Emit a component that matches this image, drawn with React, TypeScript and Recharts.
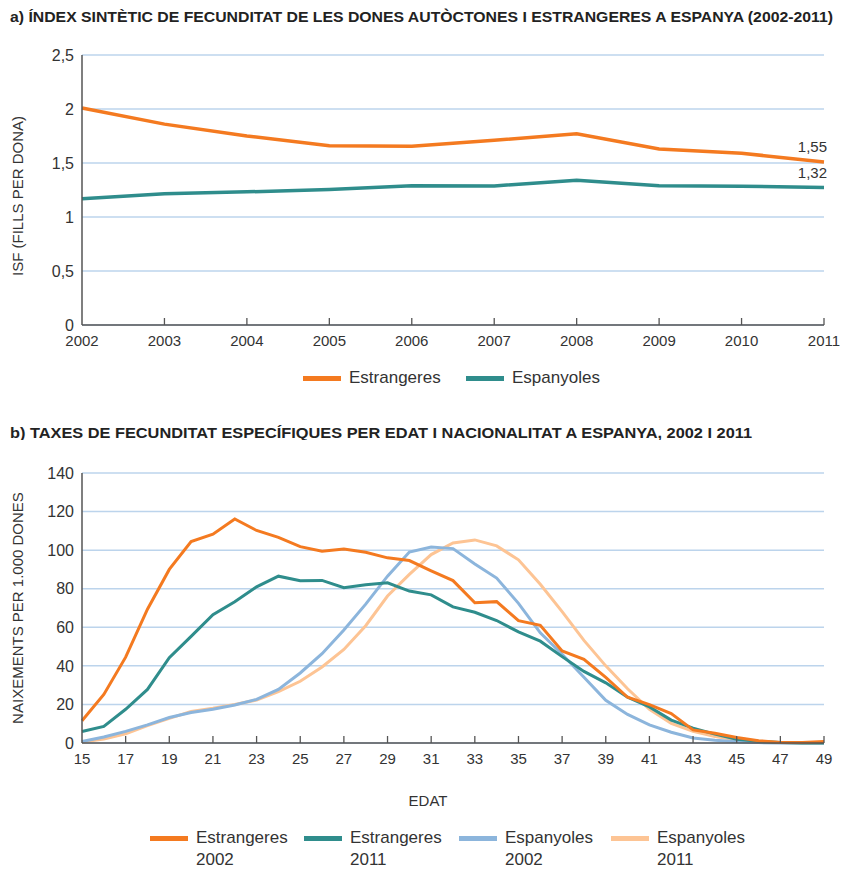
import { CartesianGrid, LabelList, Line, LineChart, XAxis, YAxis } from "recharts"

// a) ISF per year
const years = ["2002", "2003", "2004", "2005", "2006", "2007", "2008", "2009", "2010", "2011"]
const isfEstrangeres = [2.01, 1.86, 1.75, 1.66, 1.655, 1.71, 1.77, 1.63, 1.59, 1.51]
const isfEspanyoles = [1.17, 1.215, 1.233, 1.255, 1.29, 1.288, 1.34, 1.29, 1.285, 1.273]
const isfEndLabels = { estrangeres: "1,55", espanyoles: "1,32" }
const isfTicks = [0, 0.5, 1, 1.5, 2, 2.5]

// b) rates per age
const ages = [
  15, 16, 17, 18, 19, 20, 21, 22, 23, 24, 25, 26, 27, 28, 29, 30, 31, 32,
  33, 34, 35, 36, 37, 38, 39, 40, 41, 42, 43, 44, 45, 46, 47, 48, 49,
]
const estr2002 = [
  11.5, 25.2, 44.5, 69.4, 90, 104.5, 108.3, 116.2, 110.2, 106.6, 101.8, 99.4, 100.6, 98.9, 96, 94.6, 89.3, 84.2,
  72.7, 73.3, 63.4, 61, 47.7, 43.4, 34, 23.7, 19.9, 15.3, 6.8, 5.1, 2.9, 1.2, 0.3, 0.2, 0.8,
]
const estr2011 = [
  6, 8.6, 17.5, 27.8, 44.2, 55.3, 66.5, 73.2, 81, 86.5, 84.1, 84.3, 80.5, 82.1, 83.1, 78.8, 76.8, 70.6,
  67.8, 63.5, 57.6, 52.8, 44.8, 37.1, 31.2, 23.7, 18.7, 11.9, 7.7, 4.6, 2, 0.9, 0.2, 0, 0,
]
const esp2002 = [
  0.8, 3.1, 6, 9.4, 13.2, 15.8, 17.5, 19.7, 22.6, 27.8, 36.3, 46.3, 58.6, 72, 86.5, 99, 101.6, 100.8,
  92.8, 85.5, 72.4, 57.1, 46, 34.1, 22.1, 14.8, 9.4, 5.6, 2.6, 1.4, 0.7, 0.2, 0, 0, 0,
]
const esp2011 = [
  0.5, 2, 4.8, 9, 12.8, 16.3, 18, 20, 22.3, 26.6, 32, 39.4, 48.5, 60.8, 76.2, 87.4, 97.7, 103.7,
  105.3, 102.2, 95, 82.3, 68.1, 53.2, 40, 28.1, 17.5, 10.2, 6, 3.4, 1.7, 0.7, 0.3, 0, 0,
]
const ageTicks = [15, 17, 19, 21, 23, 25, 27, 29, 31, 33, 35, 37, 39, 41, 43, 45, 47, 49]
const rateTicks = [0, 20, 40, 60, 80, 100, 120, 140]

const ORANGE = "#f47a20"
const TEAL = "#2f8d8c"
const BLUE = "#8cb5dc"
const PEACH = "#fdc494"
const GRID = "#bcd4ec"
const AXIS = "#555"
const TEXT = "#333"
const FONT = "'Liberation Sans', Arial, sans-serif"

const isfData = years.map((y, i) => ({ year: y, estr: isfEstrangeres[i], esp: isfEspanyoles[i] }))
const rateData = ages.map((a, i) => ({
  age: a,
  e02: estr2002[i],
  e11: estr2011[i],
  s02: esp2002[i],
  s11: esp2011[i],
}))

const comma = (v: number) => String(v).replace(".", ",")

// x ticks: small mark pointing up into the plot, label below
function InsideTick(props: any) {
  const { x, y, payload, index } = props
  return (
    <g>
      {index > 0 && <line x1={x} y1={y} x2={x} y2={y - 7} stroke={AXIS} strokeWidth={1.3} />}
      <text x={x} y={y + 21} textAnchor="middle" fill={TEXT} fontSize={15} fontFamily={FONT}>
        {payload.value}
      </text>
    </g>
  )
}

function endLabel(text: string) {
  return (props: any) => {
    const { x, y, index } = props
    if (index !== years.length - 1) return null
    return (
      <text x={x + 3} y={y - 10} textAnchor="end" fill={TEXT} fontSize={15} fontFamily={FONT}>
        {text}
      </text>
    )
  }
}

function LegendItem({ color, lines, x, y }: { color: string; lines: string[]; x: number; y: number }) {
  return (
    <div style={{ position: "absolute", left: x, top: y, display: "flex", alignItems: "flex-start" }}>
      <div style={{ width: 38, height: 5, background: color, marginTop: 9, marginRight: 8 }} />
      <div style={{ fontSize: 17, lineHeight: "22px", color: TEXT, fontFamily: FONT }}>
        {lines.map((l) => (
          <div key={l}>{l}</div>
        ))}
      </div>
    </div>
  )
}

function RotatedLabel({ text, cx, cy }: { text: string; cx: number; cy: number }) {
  return (
    <div
      style={{
        position: "absolute",
        left: cx,
        top: cy,
        transform: "translate(-50%, -50%) rotate(-90deg)",
        whiteSpace: "nowrap",
        fontSize: 15,
        color: TEXT,
        fontFamily: FONT,
      }}
    >
      {text}
    </div>
  )
}

export default function App() {
  return (
    <div style={{ position: "relative", width: 844, height: 869, background: "#fff", fontFamily: FONT }}>
      <style>{`body{margin:0}`}</style>

      <svg width={844} height={440} style={{ position: "absolute", left: 0, top: 0 }}>
        <text
          x={10}
          y={22}
          fontSize={15}
          fontWeight="bold"
          fontFamily="'Liberation Sans Narrow', 'Liberation Sans', Arial, sans-serif"
          fill="#222"
          textLength={823}
          lengthAdjust="spacingAndGlyphs"
        >
          a) ÍNDEX SINTÈTIC DE FECUNDITAT DE LES DONES AUTÒCTONES I ESTRANGERES A ESPANYA (2002-2011)
        </text>
        <text
          x={10}
          y={438}
          fontSize={14.5}
          fontWeight="bold"
          fontFamily={FONT}
          fill="#222"
          textLength={742}
          lengthAdjust="spacingAndGlyphs"
        >
          b) TAXES DE FECUNDITAT ESPECÍFIQUES PER EDAT I NACIONALITAT A ESPANYA, 2002 I 2011
        </text>
      </svg>

      <div style={{ position: "absolute", left: 0, top: 0 }}>
        <LineChart width={844} height={400} data={isfData} margin={{ top: 55, right: 20, bottom: 45, left: 22 }}>
          <CartesianGrid vertical={false} stroke={GRID} strokeWidth={1.5} />
          <XAxis
            dataKey="year"
            stroke={AXIS}
            strokeWidth={1.5}
            tickLine={false}
            tickSize={0}
            tickMargin={0}
            height={30}
            tick={<InsideTick />}
            interval={0}
          />
          <YAxis
            domain={[0, 2.5]}
            ticks={isfTicks}
            tickFormatter={comma}
            stroke={AXIS}
            strokeWidth={1.5}
            tickLine={false}
            width={60}
            tick={{ fill: TEXT, fontSize: 16, fontFamily: FONT }}
          />
          <Line
            dataKey="estr"
            stroke={ORANGE}
            strokeWidth={3.5}
            dot={false}
            isAnimationActive={false}
          >
            <LabelList dataKey="estr" content={endLabel(isfEndLabels.estrangeres)} />
          </Line>
          <Line
            dataKey="esp"
            stroke={TEAL}
            strokeWidth={3.5}
            dot={false}
            isAnimationActive={false}
          >
            <LabelList dataKey="esp" content={endLabel(isfEndLabels.espanyoles)} />
          </Line>
        </LineChart>
      </div>

      <RotatedLabel text="ISF (FILLS PER DONA)" cx={17} cy={196} />
      <LegendItem color={ORANGE} lines={["Estrangeres"]} x={303} y={367} />
      <LegendItem color={TEAL} lines={["Espanyoles"]} x={466} y={367} />

      <div style={{ position: "absolute", left: 0, top: 410 }}>
        <LineChart width={844} height={400} data={rateData} margin={{ top: 63, right: 20, bottom: 37, left: 22 }}>
          <CartesianGrid vertical={false} stroke={GRID} strokeWidth={1.5} />
          <XAxis
            dataKey="age"
            type="number"
            domain={[15, 49]}
            ticks={ageTicks}
            stroke={AXIS}
            strokeWidth={1.5}
            tickLine={false}
            tickSize={0}
            tickMargin={0}
            height={30}
            tick={<InsideTick />}
            interval={0}
          />
          <YAxis
            domain={[0, 140]}
            ticks={rateTicks}
            stroke={AXIS}
            strokeWidth={1.5}
            tickLine={false}
            width={60}
            tick={{ fill: TEXT, fontSize: 16, fontFamily: FONT }}
          />
          <Line dataKey="s11" stroke={PEACH} strokeWidth={3} dot={false} isAnimationActive={false} />
          <Line dataKey="s02" stroke={BLUE} strokeWidth={3} dot={false} isAnimationActive={false} />
          <Line dataKey="e11" stroke={TEAL} strokeWidth={3} dot={false} isAnimationActive={false} />
          <Line dataKey="e02" stroke={ORANGE} strokeWidth={3} dot={false} isAnimationActive={false} />
        </LineChart>
      </div>

      <RotatedLabel text="NAIXEMENTS PER 1.000 DONES" cx={17} cy={608} />
      <div
        style={{ position: "absolute", left: 428, top: 800, transform: "translate(-50%, -50%)", fontSize: 15, color: TEXT }}
      >
        EDAT
      </div>
      <LegendItem color={ORANGE} lines={["Estrangeres", "2002"]} x={150} y={827} />
      <LegendItem color={TEAL} lines={["Estrangeres", "2011"]} x={304} y={827} />
      <LegendItem color={BLUE} lines={["Espanyoles", "2002"]} x={459} y={827} />
      <LegendItem color={PEACH} lines={["Espanyoles", "2011"]} x={611} y={827} />
    </div>
  )
}
